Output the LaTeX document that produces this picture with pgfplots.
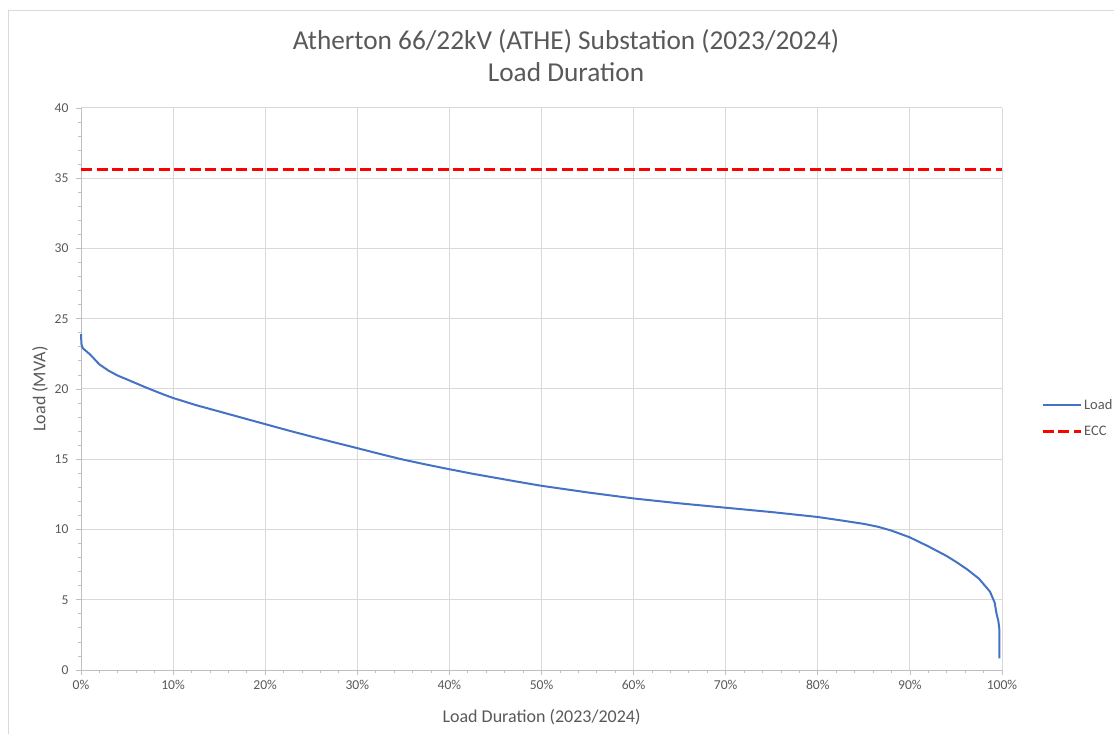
\documentclass[border=0pt]{standalone}
\usepackage{fontspec}
\setmainfont{Carlito}
\usepackage{pgfplots}
\pgfplotsset{compat=1.18}
\definecolor{txt}{HTML}{595959}
\definecolor{gridc}{HTML}{D9D9D9}
\definecolor{axc}{HTML}{BFBFBF}
\definecolor{loadc}{HTML}{4472C4}
\definecolor{eccc}{HTML}{FF0000}
\begin{document}
\begin{tikzpicture}
\path[use as bounding box] (0,0) rectangle (1114pt,734pt);
\draw[color=gridc, line width=1pt] (8pt,0pt) -- (8pt,723pt) -- (1114pt,723pt);
\node[font=\fontsize{27.3pt}{32pt}\selectfont, text=txt, align=center] at (566pt,678pt) {Atherton 66/22kV (ATHE) Substation (2023/2024)\\Load Duration};
\begin{axis}[
  at={(81pt,64pt)}, anchor=south west, scale only axis,
  width=921pt, height=562pt,
  xmin=0, xmax=100, ymin=0, ymax=40,
  axis x line=bottom, axis y line=left,
  axis line style={-, color=axc, line width=1pt},
  xtick={0,10,...,100},
  xticklabels={0\%,10\%,20\%,30\%,40\%,50\%,60\%,70\%,80\%,90\%,100\%},
  ytick={0,5,...,40},
  minor x tick num=4, minor y tick num=4,
  tick align=outside,
  major tick length=5pt, minor tick length=3pt,
  tick style={color=axc, line width=0.8pt},
  grid=major,
  major grid style={color=gridc, line width=1pt},
  /pgf/number format/assume math mode=true,
  tick label style={font=\fontsize{13.6pt}{16pt}\selectfont, text=txt},
  yticklabel style={xshift=-4pt},
  xticklabel style={yshift=-2pt},
  xlabel={Load Duration (2023/2024)},
  ylabel={Load (MVA)},
  label style={font=\fontsize{18pt}{21pt}\selectfont, text=txt},
  xlabel style={at={(axis description cs:0.5,-0.0836)}, anchor=center},
  ylabel style={at={(axis description cs:-0.0445,0.5)}, anchor=center},
  legend style={at={(axis description cs:1.039,0.448)}, anchor=west, draw=none, fill=none,
    font=\fontsize{14.5pt}{16pt}\selectfont, text=txt, row sep=11pt},
  legend cell align=left,
  legend image code/.code={\draw[#1] (0pt,0pt) -- (38pt,0pt);},
  clip=false,
]
\addplot[color=loadc, line width=2pt] table {
x y
0 23.9
0.05 23.2
0.2 22.9
1 22.45
1.5 22.1
2 21.75
3 21.3
4 20.95
5 20.68
6 20.4
7 20.12
8 19.86
9 19.6
10 19.36
12.5 18.85
15 18.4
17.5 17.95
20 17.5
22.5 17.05
25 16.62
27.5 16.2
30 15.79
32.5 15.37
35 14.97
37.5 14.62
40 14.29
42.5 13.97
45 13.68
47.5 13.39
50 13.11
55 12.64
60 12.21
65 11.86
70 11.55
75 11.24
80 10.89
82.5 10.65
85 10.4
86.5 10.2
88 9.92
90 9.44
92 8.8
94 8.11
95 7.7
96.2 7.17
97.5 6.5
98.7 5.57
99.2 4.8
99.4 4.03
99.6 3.5
99.7 3.0
99.72 0.83
};
\addlegendentry{Load}
\addplot[color=eccc, line width=3pt, dash pattern=on 11pt off 4.5pt] coordinates {(0,35.6) (100,35.6)};
\addlegendentry{ECC}
\end{axis}
\end{tikzpicture}
\end{document}
